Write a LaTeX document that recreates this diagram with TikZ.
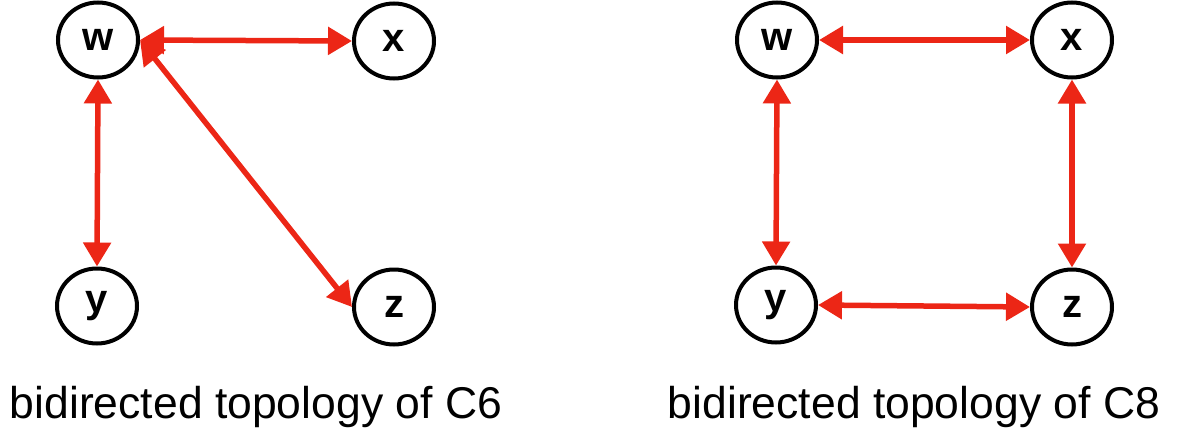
\documentclass[tikz,border=0pt]{standalone}
\usepackage{fontspec}
\setmainfont{Liberation Sans}
\usetikzlibrary{arrows.meta,shapes.geometric}
\definecolor{arrowred}{RGB}{236,38,22}
\begin{document}
\begin{tikzpicture}[x=1pt,y=-1pt,
  vnode/.style={draw=black,line width=4pt,ellipse,minimum width=80pt,minimum height=75pt,inner sep=0pt,font=\fontsize{40}{48}\selectfont\bfseries},
  biedge/.style={draw=arrowred,line width=5.5pt,{Triangle[length=24pt,width=27pt]}-{Triangle[length=24pt,width=27pt]}},
  caption/.style={anchor=base,inner sep=0pt,font=\fontsize{44.5}{52}\selectfont}]
\useasboundingbox (0,0) rectangle (1179,434);
% left graph
\node[vnode] (lw) at (98,40) {w};
\node[vnode] (lx) at (394,41) {x};
\node[vnode] (ly) at (97,306) {y};
\node[vnode] (lz) at (394,307) {z};
\draw[biedge] (lw.east) -- (lx.west);
\draw[biedge] (lw.south) -- (ly.north);
\draw[biedge] (lw.east) -- (lz.west);
\node[caption] (lcap) at (256,418) {bidirected topology of C6};
% right graph
\node[vnode] (rw) at (777,40) {w};
\node[vnode] (rx) at (1072,40) {x};
\node[vnode] (ry) at (776,305) {y};
\node[vnode] (rz) at (1072,307) {z};
\draw[biedge] (rw.east) -- (rx.west);
\draw[biedge] (rx.south) -- (rz.north);
\draw[biedge] (ry.east) -- (rz.west);
\draw[biedge] (rw.south) -- (ry.north);
\node[caption] (rcap) at (914,418) {bidirected topology of C8};
\end{tikzpicture}
\end{document}
